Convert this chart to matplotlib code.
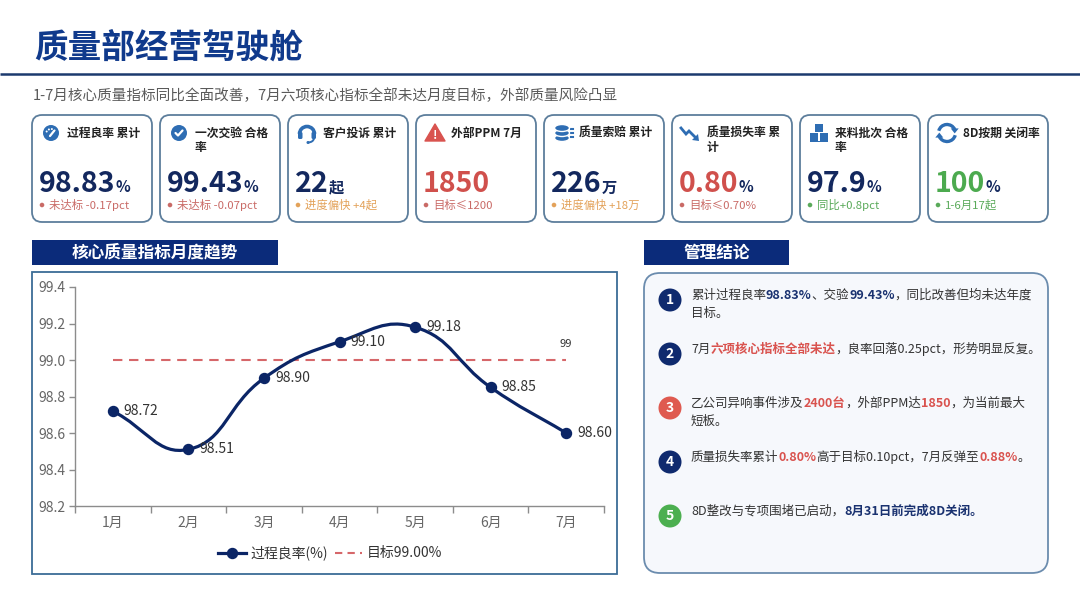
import numpy as np
import matplotlib
matplotlib.use("Agg")
import matplotlib.pyplot as plt
from matplotlib.patches import FancyBboxPatch, Rectangle, Circle, Polygon, Ellipse, Arc, PathPatch
from matplotlib.path import Path
from matplotlib.lines import Line2D

plt.rcParams['font.family'] = ['Noto Sans CJK SC', 'DejaVu Sans']

# ---------------- data ----------------
title = "质量部经营驾驶舱"
subtitle = "1-7月核心质量指标同比全面改善，7月六项核心指标全部未达月度目标，外部质量风险凸显"

kpi_labels = ["过程良率 累计", "一次交验 合格率", "客户投诉 累计", "外部PPM 7月",
              "质量索赔 累计", "质量损失率 累计", "来料批次 合格率", "8D按期 关闭率"]
kpi_values = ["98.83", "99.43", "22", "1850", "226", "0.80", "97.9", "100"]
kpi_units = ["%", "%", "起", "", "万", "%", "%", "%"]
kpi_value_tone = ["navy", "navy", "navy", "red", "navy", "red", "navy", "green"]
kpi_notes = ["未达标 -0.17pct", "未达标 -0.07pct", "进度偏快 +4起", "目标≤1200",
             "进度偏快 +18万", "目标≤0.70%", "同比+0.8pct", "1-6月17起"]
kpi_note_tone = ["red", "red", "orange", "red", "orange", "red", "green", "green"]
kpi_icons = ["gauge", "check", "headset", "warning", "coins", "trend", "boxes", "refresh"]

chart_title = "核心质量指标月度趋势"
months = ["1月", "2月", "3月", "4月", "5月", "6月", "7月"]
yield_rate = [98.72, 98.51, 98.90, 99.10, 99.18, 98.85, 98.60]
target = 99.0
target_label = "99"
y_ticks = [98.2, 98.4, 98.6, 98.8, 99.0, 99.2, 99.4]
series_name = "过程良率(%)"
target_name = "目标99.00%"

panel_title = "管理结论"
conclusions = [
    [[("累计过程良率", "n"), ("98.83%", "b"), ("、交验", "n"), ("99.43%", "b"),
      ("，同比改善但均未达年度", "n")],
     [("目标。", "n")]],
    [[("7月", "n"), ("六项核心指标全部未达", "r"), ("，良率回落0.25pct，形势明显反复。", "n")]],
    [[("乙公司异响事件涉及", "n"), ("2400台", "r"), ("，外部PPM达", "n"), ("1850", "r"),
      ("，为当前最大", "n")],
     [("短板。", "n")]],
    [[("质量损失率累计", "n"), ("0.80%", "r"), ("高于目标0.10pct，7月反弹至", "n"),
      ("0.88%", "r"), ("。", "n")]],
    [[("8D整改与专项围堵已启动，", "n"), ("8月31日前完成8D关闭。", "b")]],
]
badge_tone = ["navy", "navy", "red", "navy", "green"]

# ---------------- style ----------------
W, H = 1080, 608
NAVY = "#13285e"
TITLE_BLUE = "#103a8c"
HEAD_NAVY = "#0b2b7a"
LINE_NAVY = "#0b2566"
ICON_BLUE = "#2e6db3"
TEXT = "#333333"
VAL_COL = {"navy": NAVY, "red": "#d0504c", "green": "#4caa4f"}
NOTE_COL = {"red": "#c96a66", "orange": "#e3a25a", "green": "#5aaa5a"}
BADGE_COL = {"navy": "#0f2a6e", "red": "#df5a50", "green": "#4caf50"}
SEG_STY = {"n": (TEXT, "normal"), "b": ("#1a3270", "bold"), "r": ("#d9534f", "bold")}

fig = plt.figure(figsize=(W / 100, H / 100), dpi=100)
fig.patch.set_facecolor("white")
bg = fig.add_axes([0, 0, 1, 1])
bg.set_xlim(0, W)
bg.set_ylim(0, H)
bg.axis("off")
R = fig.canvas.get_renderer()


def Y(y):
    return H - y


def text(x, y, s, **kw):
    return bg.text(x, Y(y), s, **kw)


def adv_width(s, **kw):
    """advance width in px of string s (includes trailing advance)."""
    t1 = bg.text(0, 0, s + "|", **kw)
    t2 = bg.text(0, 0, "|", **kw)
    w = t1.get_window_extent(renderer=R).width - t2.get_window_extent(renderer=R).width
    t1.remove()
    t2.remove()
    return w


def rbox(x0, y0, x1, y1, r, ec, fc, lw, z=1):
    p = FancyBboxPatch((x0, Y(y1)), x1 - x0, y1 - y0,
                       boxstyle=f"round,pad=0,rounding_size={r}",
                       ec=ec, fc=fc, lw=lw, zorder=z)
    bg.add_patch(p)


# ---------------- header ----------------
text(34, 48, title, fontsize=24.2, fontweight=900, color=TITLE_BLUE, va="center", ha="left")
bg.plot([0, W], [Y(74), Y(74)], color="#1c3a6e", lw=1.8, solid_capstyle="butt")
text(33, 96, subtitle, fontsize=10.5, color="#5a5a5a", va="center", ha="left")


# ---------------- icons ----------------
def draw_icon(kind, cx, cy):
    c = ICON_BLUE
    if kind == "gauge":
        bg.add_patch(Circle((cx, Y(cy)), 8, fc=c, ec="none", zorder=3))
        for a in [150, 115, 80, 45]:
            r = np.deg2rad(a)
            bg.add_patch(Circle((cx + 5 * np.cos(r), Y(cy) + 5 * np.sin(r) - 1), 1.0,
                                fc="white", ec="none", zorder=4))
        bg.plot([cx - 1, cx + 3], [Y(cy) - 3, Y(cy) + 2], color="white", lw=1.6, zorder=4,
                solid_capstyle="round")
    elif kind == "check":
        bg.add_patch(Circle((cx, Y(cy)), 8, fc=c, ec="none", zorder=3))
        bg.plot([cx - 3.5, cx - 1, cx + 3.5], [Y(cy), Y(cy) - 2.5, Y(cy) + 2.5],
                color="white", lw=1.6, zorder=4, solid_capstyle="round", solid_joinstyle="round")
    elif kind == "headset":
        bg.add_patch(Arc((cx, Y(cy) - 1), 15, 15, theta1=0, theta2=180, lw=2.6, color=c, zorder=3))
        bg.add_patch(FancyBboxPatch((cx - 9, Y(cy) - 6), 4.5, 7,
                                    boxstyle="round,pad=0,rounding_size=1.5", fc=c, ec="none", zorder=3))
        bg.add_patch(FancyBboxPatch((cx + 4.5, Y(cy) - 6), 4.5, 7,
                                    boxstyle="round,pad=0,rounding_size=1.5", fc=c, ec="none", zorder=3))
        bg.add_patch(Arc((cx + 1, Y(cy) - 5), 12, 9, theta1=270, theta2=355, lw=1.4, color=c, zorder=3))
        bg.add_patch(Circle((cx + 1, Y(cy) - 9.5), 1.5, fc=c, ec="none", zorder=3))
    elif kind == "warning":
        bg.add_patch(Polygon([(cx, Y(cy - 9)), (cx - 10, Y(cy + 8)), (cx + 10, Y(cy + 8))],
                             closed=True, fc="#d9534f", ec="#d9534f", lw=1, joinstyle="round", zorder=3))
        text(cx, cy + 2.5, "!", fontsize=8.5, fontweight="bold", color="white",
             ha="center", va="center", zorder=4)
    elif kind == "coins":
        for k, dy in enumerate([5, 0, -5]):
            bg.add_patch(Ellipse((cx - 1, Y(cy + dy)), 15, 7, fc=c, ec="white", lw=1.0, zorder=3 + k))
        for dy in [-4, 0, 4]:
            bg.plot([cx + 8, cx + 9.5], [Y(cy + dy), Y(cy + dy)], color=c, lw=1.5, zorder=3)
    elif kind == "trend":
        xs_ = [cx - 10, cx - 5, cx - 2, cx + 5]
        ys_ = [cy - 5, cy + 1, cy - 2, cy + 5]
        bg.plot(xs_, [Y(v) for v in ys_], color=c, lw=2.0, zorder=3, solid_joinstyle="miter")
        bg.add_patch(Polygon([(cx + 8, Y(cy + 8)), (cx + 1, Y(cy + 7)), (cx + 7, Y(cy + 1))],
                             closed=True, fc=c, ec="none", zorder=3))
    elif kind == "boxes":
        bg.add_patch(Rectangle((cx - 9, Y(cy + 8)), 8, 8, fc=c, ec="none", zorder=3))
        bg.add_patch(Rectangle((cx + 1, Y(cy + 8)), 8, 8, fc=c, ec="none", zorder=3))
        bg.add_patch(Rectangle((cx - 4, Y(cy - 1)), 8, 8, fc=c, ec="none", zorder=3))
        bg.add_patch(Rectangle((cx - 9, Y(cy + 9)), 18, 1.5, fc=c, ec="none", zorder=3))
    elif kind == "refresh":
        bg.add_patch(Arc((cx, Y(cy)), 17, 17, theta1=25, theta2=165, lw=2.4, color=c, zorder=3))
        bg.add_patch(Arc((cx, Y(cy)), 17, 17, theta1=205, theta2=345, lw=2.4, color=c, zorder=3))
        a = np.deg2rad(25)
        px, py = cx + 8.5 * np.cos(a), Y(cy) + 8.5 * np.sin(a)
        bg.add_patch(Polygon([(px - 4, py + 1), (px + 4, py + 1), (px, py - 4)], closed=True,
                             fc=c, ec="none", zorder=3))
        a = np.deg2rad(205)
        px, py = cx + 8.5 * np.cos(a), Y(cy) + 8.5 * np.sin(a)
        bg.add_patch(Polygon([(px - 4, py - 1), (px + 4, py - 1), (px, py + 4)], closed=True,
                             fc=c, ec="none", zorder=3))


# ---------------- KPI cards ----------------
card_x0, card_pitch, card_w = 32, 128, 120
card_top, card_bot = 115, 222
lab_kw = dict(fontsize=8.5, fontweight="bold", color="#222222")
for i in range(len(kpi_labels)):
    x0 = card_x0 + i * card_pitch
    rbox(x0, card_top, x0 + card_w, card_bot, 10, "#5d7e9c", "white", 1.3)
    draw_icon(kpi_icons[i], x0 + 19, 133)
    # wrap label
    maxw = card_w - 36 - 3
    lines, cur = [], ""
    for ch in kpi_labels[i]:
        if cur and adv_width(cur + ch, **lab_kw) > maxw:
            lines.append(cur)
            cur = ch.strip()
        else:
            cur += ch
    lines.append(cur)
    for k, ln in enumerate(lines):
        text(x0 + 35, 133 + 15 * k, ln, va="center", ha="left", **lab_kw)
    # value
    vkw = dict(fontsize=20.5, fontweight="bold", color=VAL_COL[kpi_value_tone[i]])
    text(x0 + 7, 192.5, kpi_values[i], va="baseline", ha="left", **vkw)
    vw = adv_width(kpi_values[i], **vkw)
    if kpi_units[i]:
        text(x0 + 7 + vw, 192.5, kpi_units[i], va="baseline", ha="left",
             fontsize=11, fontweight="bold", color=NAVY)
    # note
    nc = NOTE_COL[kpi_note_tone[i]]
    bg.add_patch(Circle((x0 + 10, Y(205)), 2.3, fc=nc, ec="none", zorder=3))
    text(x0 + 17, 205, kpi_notes[i], va="center", ha="left", fontsize=8.2, color=nc)

# ---------------- section headers ----------------
bg.add_patch(Rectangle((32, Y(265)), 246, 25, fc=HEAD_NAVY, ec="none"))
text(155, 252.5, chart_title, fontsize=12, fontweight="bold", color="white", ha="center", va="center")
bg.add_patch(Rectangle((644, Y(265)), 145, 25, fc=HEAD_NAVY, ec="none"))
text(716.5, 252.5, panel_title, fontsize=12, fontweight="bold", color="white", ha="center", va="center")

# chart frame
bg.add_patch(Rectangle((32, Y(574)), 585, 302, fc="white", ec="#3c6c96", lw=1.3))

# ---------------- line chart ----------------
ax_l, ax_r, ax_t, ax_b = 75, 604, 287, 506
ax = fig.add_axes([ax_l / W, (H - ax_b) / H, (ax_r - ax_l) / W, (ax_b - ax_t) / H])
ax.set_facecolor("none")
ax.set_xlim(-0.5, len(months) - 0.5)
ax.set_ylim(y_ticks[0], y_ticks[-1])
for s in ["top", "right"]:
    ax.spines[s].set_visible(False)
for s in ["left", "bottom"]:
    ax.spines[s].set_color("#8c8c8c")
    ax.spines[s].set_linewidth(1.0)
ax.set_yticks(y_ticks)
ax.set_yticklabels([f"{v:.1f}" for v in y_ticks])
ax.tick_params(axis="y", length=4, width=1, color="#8c8c8c", labelsize=10, labelcolor="#666666", pad=3)
ax.set_xticks(np.arange(-0.5, len(months), 1.0))
ax.set_xticklabels([])
ax.tick_params(axis="x", which="major", length=5, width=1, color="#8c8c8c")
ax.set_xticks(np.arange(len(months)), minor=True)
ax.set_xticklabels(months, minor=True)
ax.tick_params(axis="x", which="minor", length=0, labelsize=10, labelcolor="#666666", pad=7)

# smooth curve (ECharts-like bezier smoothing) in pixel space
xs = np.arange(len(months), dtype=float)
ys = np.array(yield_rate, dtype=float)
sx = (ax_r - ax_l) / len(months)
sy = (ax_b - ax_t) / (y_ticks[-1] - y_ticks[0])
P = np.column_stack([xs * sx, ys * sy])
n = len(P)
cin, cout = [], []
smooth = 0.45
for i in range(n):
    prev = P[i - 1] if i > 0 else P[i]
    nxt = P[i + 1] if i < n - 1 else P[i]
    v = (nxt - prev) * smooth
    d0 = np.linalg.norm(P[i] - prev)
    d1 = np.linalg.norm(nxt - P[i])
    r1 = d1 / (d0 + d1)
    cout.append(P[i] + v * r1)
    cin.append(P[i] - v * (1 - r1))
verts = [P[0]]
codes = [Path.MOVETO]
for i in range(n - 1):
    verts += [cout[i], cin[i + 1], P[i + 1]]
    codes += [Path.CURVE4] * 3
verts = np.array(verts) / np.array([sx, sy])
ax.add_patch(PathPatch(Path(verts, codes), fc="none", ec=LINE_NAVY, lw=2.3, zorder=3,
                       capstyle="round", joinstyle="round"))
ax.plot(xs, ys, "o", color=LINE_NAVY, ms=7.2, zorder=4)
for x, v in zip(xs, ys):
    ax.annotate(f"{v:.2f}", (x, v), xytext=(11, 0), textcoords="offset pixels",
                ha="left", va="center", fontsize=10, color=TEXT, zorder=5)

# target line
ax.plot([xs[0], xs[-1]], [target, target], color="#d6676a", lw=1.5, ls=(0, (4.5, 3.2)), zorder=2)
ax.annotate(target_label, (xs[-1], target), xytext=(0, 11), textcoords="offset pixels",
            ha="center", va="bottom", fontsize=8, color=TEXT)

# legend
handles = [Line2D([], [], color=LINE_NAVY, lw=2.3, marker="o", ms=7.2),
           Line2D([], [], color="#d6676a", lw=1.5, ls=(0, (3.5, 2.5)))]
fig.legend(handles, [series_name, target_name], loc="center", ncol=2, frameon=False,
           bbox_to_anchor=(330 / W, (H - 553) / H), fontsize=10, handlelength=2.0,
           handletextpad=0.3, columnspacing=0.5, labelcolor=TEXT)

# ---------------- conclusions panel ----------------
rbox(644, 273, 1048, 573, 16, "#6b8cae", "#f6f8fc", 1.3)
badge_y = [300, 354, 408, 462, 516]
fs = 9
for i, item in enumerate(conclusions):
    cy = badge_y[i]
    bg.add_patch(Circle((670, Y(cy)), 11.5, fc=BADGE_COL[badge_tone[i]], ec="none", zorder=3))
    text(670, cy, str(i + 1), fontsize=10, fontweight="bold", color="white",
         ha="center", va="center", zorder=4)
    for k, line in enumerate(item):
        ly = cy - 4.5 + 18 * k
        x = 691
        for seg, st in line:
            col, wt = SEG_STY[st]
            kw = dict(fontsize=fs, color=col, fontweight=wt)
            text(x, ly, seg, ha="left", va="center", **kw)
            x += adv_width(seg, **kw)

fig.savefig("out.png", dpi=100, facecolor="white")
